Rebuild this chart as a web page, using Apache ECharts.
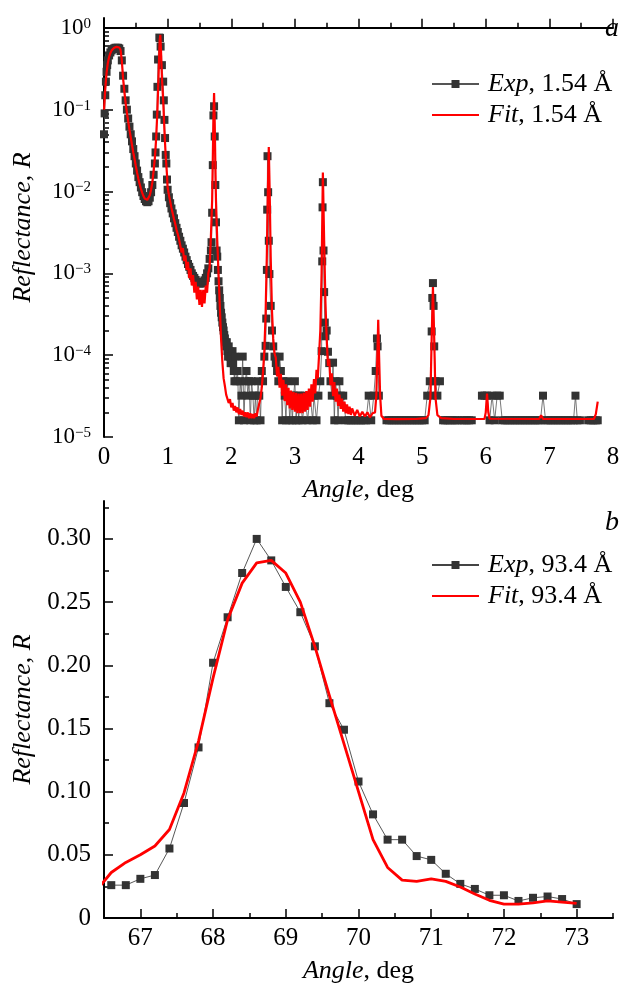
<!DOCTYPE html>
<html>
<head>
<meta charset="utf-8">
<script src="https://cdn.jsdelivr.net/npm/echarts@6/dist/echarts.min.js"></script>
<style>
  html, body { margin: 0; padding: 0; background: #fff; }
  #chart { width: 623px; height: 983px; }
</style>
</head>
<body>
<div id="chart"></div>
<script>
// ---- Panel a: X-ray reflectivity at 1.54 Å, [angle (deg), reflectance R] ----
const expTopLow = [
  [0.00,0.05],[0.01,0.09],[0.02,0.15],[0.03,0.22],[0.04,0.29],[0.05,0.35],[0.06,0.40],[0.08,0.46],
  [0.10,0.50],[0.12,0.53],[0.14,0.55],[0.16,0.56],[0.18,0.57],[0.20,0.57],[0.22,0.57],[0.24,0.56],
  [0.26,0.52],[0.28,0.40],[0.30,0.26],[0.32,0.18],[0.34,0.13],[0.36,0.10],[0.38,0.078],[0.40,0.062],
  [0.42,0.050],[0.44,0.041],[0.46,0.033],[0.48,0.027],[0.50,0.022],[0.52,0.018],[0.54,0.015],[0.56,0.013],
  [0.58,0.0112],[0.60,0.0098],[0.62,0.0088],[0.64,0.0081],[0.66,0.0076],[0.68,0.0074],[0.70,0.0076],
  [0.72,0.0084],[0.74,0.0098],[0.76,0.012],[0.78,0.016],[0.80,0.022],[0.81,0.030],[0.82,0.047],
  [0.83,0.087],[0.84,0.19],[0.85,0.41],[0.87,0.76],[0.88,0.75],[0.89,0.59],[0.91,0.35],[0.93,0.22],
  [0.94,0.13],[0.95,0.075],[0.96,0.045],[0.97,0.028],[0.98,0.022],[0.99,0.014],[1.00,0.0105]
];
const expTopMid = [
  [1.02,0.0085],[1.04,0.0072],[1.06,0.0062],[1.08,0.0054],[1.10,0.0047],[1.12,0.0041],[1.14,0.0036],
  [1.16,0.0032],[1.18,0.0028],[1.20,0.0025],[1.22,0.0022],[1.24,0.0020],[1.26,0.0018],[1.28,0.0016],
  [1.30,0.00145],[1.32,0.0013],[1.34,0.0012],[1.36,0.0011],[1.38,0.0010],[1.40,0.00093],[1.42,0.00088],
  [1.44,0.00083],[1.46,0.00079],[1.48,0.00077],[1.50,0.00075],[1.52,0.00075],[1.54,0.00076],[1.56,0.00078],
  [1.58,0.00082],[1.60,0.00088],[1.62,0.0010],[1.64,0.00115],[1.66,0.0015],[1.68,0.0019],[1.69,0.0024],
  [1.70,0.0055],[1.71,0.021],[1.72,0.085],[1.73,0.11],[1.74,0.047],[1.75,0.012],[1.76,0.0042],
  [1.77,0.0019],[1.78,0.0016],[1.79,0.0011],[1.80,0.0008],[1.81,0.00062],[1.82,0.0005],[1.83,0.0004],
  [1.84,0.00033],[1.85,0.00029],[1.86,0.00025],[1.87,0.00022],[1.88,0.0002],[1.89,0.000176],
  [1.90,0.00016],[1.91,0.000144],[1.92,0.000128],[1.93,0.000144],[1.94,0.000112],[1.95,0.000096],
  [1.96,0.000128],[1.97,0.000112],[1.98,0.000096],[1.99,0.00008],[2.00,0.00008],[2.01,0.000096],
  [2.02,0.000112],[2.03,0.00008],[2.04,0.000064],[2.05,0.000048],[2.06,0.000096],[2.07,0.000064],
  [2.08,0.000048],[2.10,0.000064],
  [2.12,0.000016],[2.14,0.000048],[2.16,0.000032],[2.18,0.000096],[2.20,0.000016],[2.22,0.000048],
  [2.24,0.000064],[2.26,0.000032],[2.28,0.000048],[2.30,0.000016],[2.32,0.000048],[2.34,0.000032],
  [2.36,0.000016],[2.38,0.000032],[2.40,0.000016],[2.42,0.000048],[2.44,0.000032],[2.46,0.000016],
  [2.48,0.000064],[2.50,0.000048],[2.52,0.000096],[2.54,0.00013],[2.55,0.00028],[2.56,0.0011],
  [2.565,0.006],[2.57,0.027],[2.58,0.0098],[2.59,0.0025],[2.60,0.00098],[2.62,0.0004],[2.64,0.0002],
  [2.66,0.000128],[2.68,0.000096],[2.70,0.00008],[2.72,0.000064],[2.74,0.000048],[2.76,0.000096],
  [2.78,0.000064],[2.80,0.000016],[2.82,0.000048],[2.84,0.000032],[2.86,0.000016],[2.88,0.000048],
  [2.90,0.000032],[2.92,0.000016],[2.94,0.000032],[2.96,0.000016],[2.98,0.000032],[3.00,0.000048],
  [3.02,0.000016],[3.04,0.000032],[3.06,0.000016],[3.08,0.000032],[3.12,0.000016],[3.16,0.000032],
  [3.20,0.000016],[3.24,0.000032],[3.28,0.000016],[3.30,0.000032],[3.34,0.000016],[3.37,0.000032],
  [3.40,0.000048],[3.42,0.000112],[3.43,0.0014],[3.435,0.0064],[3.44,0.013],[3.45,0.0019],
  [3.46,0.00059],[3.47,0.00025],[3.48,0.00017],[3.50,0.0002],[3.52,0.00011],[3.54,0.00008],
  [3.56,0.000048],[3.58,0.000032],[3.60,0.000081],[3.62,0.000016],[3.64,0.000048],[3.66,0.000032],
  [3.68,0.000016],[3.70,0.000048],[3.72,0.000032],[3.76,0.000032]
];
const expTopHigh = [
  [3.80,0.000016],[3.84,0.000016],[3.88,0.000016],[3.92,0.000016],[3.96,0.000016],[4.00,0.000016],
  [4.04,0.000016],[4.08,0.000016],[4.12,0.000016],[4.16,0.000032],[4.20,0.000016],[4.24,0.000032],
  [4.27,0.000064],[4.29,0.00016],[4.30,0.000128],[4.32,0.000032],[4.36,null],[4.40,null],
  [4.44,0.000016],[4.48,0.000016],[4.52,0.000016],[4.56,0.000016],[4.60,0.000016],[4.64,0.000016],
  [4.68,0.000016],[4.72,0.000016],[4.76,0.000016],[4.80,0.000016],[4.84,0.000016],[4.88,0.000016],
  [4.92,0.000016],[4.96,0.000016],[5.00,0.000016],[5.04,0.000016],[5.08,0.000032],[5.12,0.000048],
  [5.14,0.000032],[5.15,0.000195],[5.16,0.0005],[5.17,0.00076],[5.18,0.0004],[5.19,0.000128],
  [5.21,0.000048],[5.24,0.000032],[5.28,0.000048],[5.30,null],[5.33,0.000016],[5.36,0.000016],
  [5.40,0.000016],[5.44,0.000016],[5.48,0.000016],[5.52,0.000016],[5.56,0.000016],[5.62,0.000016],
  [5.66,0.000016],[5.70,0.000016],[5.74,0.000016],[5.78,0.000016],[5.84,null],[5.94,0.000032],
  [5.98,0.000032],[6.02,0.000032],[6.06,0.000016],[6.10,0.000032],[6.14,0.000016],[6.18,0.000032],
  [6.22,0.000032],[6.26,0.000016],[6.30,0.000016],[6.34,0.000016],[6.38,0.000016],[6.42,0.000016],
  [6.46,0.000016],[6.50,0.000016],[6.54,0.000016],[6.58,0.000016],[6.62,0.000016],[6.66,0.000016],
  [6.70,0.000016],[6.74,0.000016],[6.78,0.000016],[6.82,0.000016],[6.86,0.000016],[6.90,0.000032],
  [6.94,0.000016],[6.98,0.000016],[7.02,0.000016],[7.06,0.000016],[7.10,0.000016],[7.14,0.000016],
  [7.18,0.000016],[7.22,0.000016],[7.26,0.000016],[7.30,0.000016],[7.34,0.000016],[7.38,0.000016],
  [7.41,0.000032],[7.44,0.000016],[7.48,0.000016],[7.54,null],[7.61,0.000016],[7.65,0.000016],
  [7.69,0.000016],[7.73,0.000016],[7.76,0.000016]
];
const fitTopLow = [
  [0.00,0.10],[0.02,0.18],[0.04,0.28],[0.06,0.37],[0.08,0.44],[0.10,0.49],[0.12,0.53],[0.14,0.555],
  [0.16,0.57],[0.18,0.58],[0.20,0.585],[0.22,0.585],[0.24,0.575],[0.26,0.54],[0.28,0.40],[0.30,0.24],
  [0.32,0.165],[0.34,0.12],[0.36,0.092],[0.38,0.072],[0.40,0.057],[0.42,0.046],[0.44,0.037],[0.46,0.030],
  [0.48,0.025],[0.50,0.0205],[0.52,0.017],[0.54,0.0143],[0.56,0.0123],[0.58,0.0108],[0.60,0.0097],
  [0.62,0.0088],[0.64,0.0082],[0.66,0.0079],[0.68,0.0079],[0.70,0.0082],[0.72,0.0090],[0.74,0.0105],
  [0.76,0.013],[0.78,0.018],[0.80,0.026],[0.82,0.045],[0.84,0.10],[0.86,0.30],[0.875,0.70],[0.885,0.82],
  [0.895,0.55],[0.91,0.25],[0.93,0.13],[0.95,0.055],[0.97,0.027],[0.99,0.016],[1.00,0.0112],
  [1.02,0.0091],[1.04,0.0076],[1.06,0.0063],[1.08,0.0054],[1.10,0.0046],[1.12,0.0040],[1.14,0.0034],
  [1.16,0.0030],[1.18,0.0026],[1.20,0.0025],[1.22,0.0018],[1.24,0.00204],[1.26,0.00141],[1.28,0.00166],
  [1.30,0.0011],[1.32,0.00138],[1.34,0.00087],[1.36,0.00115],[1.38,0.00071],[1.40,0.00095],[1.42,0.00058],
  [1.44,0.00079],[1.46,0.00048],[1.48,0.00069],[1.50,0.00041],[1.52,0.00063],[1.54,0.00039],[1.56,0.00063],
  [1.58,0.00043],[1.60,0.00071],[1.62,0.00058],[1.64,0.0010],[1.66,0.00117],[1.68,0.0028],[1.70,0.0079],
  [1.71,0.025],[1.72,0.079],[1.73,0.16],[1.74,0.071],[1.75,0.022],[1.76,0.0079],[1.78,0.0025],
  [1.80,0.0010],[1.82,0.0004],[1.84,0.000158],[1.86,0.000083],[1.88,0.000052],[1.90,0.000042]
];
const fitTopHigh = [
  [1.92,0.000033],[1.94,0.000034],[1.96,0.000026],[1.98,0.000029],[2.00,0.000023],[2.02,0.000026],
  [2.04,0.000021],[2.06,0.000024],[2.08,0.000020],[2.10,0.000023],[2.12,0.000019],[2.14,0.000022],
  [2.16,0.0000186],[2.18,0.000021],[2.20,0.0000178],[2.22,0.000020],[2.24,0.0000174],[2.26,0.000020],
  [2.28,0.000017],[2.30,0.0000195],[2.32,0.000017],[2.34,0.000019],[2.36,0.000017],[2.38,0.0000195],
  [2.40,0.0000178],[2.42,0.000022],[2.44,0.000022],[2.46,0.000030],[2.48,0.000040],[2.50,0.000063],
  [2.52,0.000112],[2.54,0.00032],[2.56,0.00178],[2.575,0.010],[2.59,0.035],[2.605,0.0089],[2.62,0.00158],
  [2.64,0.00035],[2.66,0.000158],[2.68,0.000105],[2.70,0.000093],[2.72,0.000055],[2.74,0.000072],
  [2.76,0.000040],[2.78,0.000059],[2.80,0.000032],[2.82,0.000050],[2.84,0.0000275],[2.86,0.000044],
  [2.88,0.0000245],[2.90,0.000040],[2.92,0.0000224],[2.94,0.000037],[2.96,0.0000214],[2.98,0.0000355],
  [3.00,0.0000204],[3.02,0.0000347],[3.04,0.0000195],[3.06,0.000034],[3.08,0.0000195],[3.10,0.000034],
  [3.12,0.0000195],[3.14,0.0000347],[3.16,0.0000204],[3.18,0.0000363],[3.20,0.0000214],[3.22,0.000039],
  [3.24,0.0000234],[3.26,0.000044],[3.28,0.000027],[3.30,0.000051],[3.32,0.000034],[3.34,0.000066],
  [3.36,0.000052],[3.38,0.00010],[3.40,0.00020],[3.42,0.0010],[3.44,0.017],[3.46,0.0025],[3.48,0.00045],
  [3.50,0.000158],[3.52,0.000074],[3.54,0.000089],[3.56,0.000043],[3.58,0.000060],[3.60,0.0000316],
  [3.62,0.000047],[3.64,0.000027],[3.66,0.000039],[3.68,0.000024],[3.70,0.000033],[3.72,0.000022],
  [3.74,0.0000295],[3.76,0.0000204],[3.78,0.000027],[3.80,0.0000195],[3.82,0.000025],[3.84,0.000019],
  [3.86,0.0000234],[3.88,0.0000186],[3.90,0.0000224],[3.94,0.0000182],[3.98,0.0000214],[4.02,0.0000178],
  [4.06,0.0000204],[4.10,0.0000178],[4.14,0.000020],[4.18,0.0000174],[4.22,0.0000195],[4.26,0.000020],
  [4.28,0.000032],[4.30,0.000126],[4.31,0.00027],[4.32,0.000126],[4.34,0.000032],[4.36,0.0000182],
  [4.40,0.0000166],[4.60,0.0000165],[4.90,0.0000166],[5.06,0.000017],[5.10,0.0000185],[5.13,0.000030],
  [5.15,0.00016],[5.17,0.00068],[5.19,0.00016],[5.21,0.000030],[5.24,0.0000185],[5.30,0.000017],
  [5.50,0.0000166],[5.98,0.0000166],[6.00,0.000020],[6.02,0.000034],[6.04,0.000020],[6.06,0.0000167],
  [6.84,0.0000166],[6.87,0.0000185],[6.90,0.0000166],[7.70,0.0000166],[7.73,0.000019],[7.76,0.000027]
];
const decadeTicks = [-5, -4, -3, -2, -1, 0];   // log10 of 10^-5 ... 10^0

// ---- Panel b: reflectivity at 93.4 Å ----
const angleB = [66.6,66.8,67.0,67.2,67.4,67.6,67.8,68.0,68.2,68.4,68.6,68.8,69.0,69.2,69.4,69.6,69.8,
  70.0,70.2,70.4,70.6,70.8,71.0,71.2,71.4,71.6,71.8,72.0,72.2,72.4,72.6,72.8,73.0];
const expB = [0.026,0.026,0.031,0.034,0.055,0.091,0.135,0.202,0.238,0.273,0.300,0.283,0.262,0.242,
  0.215,0.170,0.149,0.108,0.082,0.062,0.062,0.049,0.046,0.035,0.027,0.023,0.018,0.018,0.0135,0.016,
  0.017,0.015,0.011];
const fitAngleB = [66.4,66.6,66.8,67.0,67.2,67.4,67.6,67.8,68.0,68.2,68.4,68.6,68.8,69.0,69.2,69.4,
  69.6,69.8,70.0,70.2,70.4,70.6,70.8,71.0,71.2,71.4,71.6,71.8,72.0,72.2,72.4,72.6,72.8,73.0];
const fitB = [0.022,0.036,0.044,0.050,0.057,0.070,0.099,0.140,0.190,0.236,0.265,0.281,0.283,0.273,
  0.250,0.215,0.176,0.138,0.100,0.062,0.040,0.030,0.029,0.031,0.029,0.0245,0.019,0.014,0.011,0.011,
  0.012,0.0135,0.0125,0.0115];
const xTicksB = [67, 68, 69, 70, 71, 72, 73];
const xMinorB = [67.5, 68.5, 69.5, 70.5, 71.5, 72.5, 73.5];
const yTicksB = [0, 0.05, 0.10, 0.15, 0.20, 0.25, 0.30];
const yMinorB = [0.025, 0.075, 0.125, 0.175, 0.225, 0.275, 0.325];

const FONT = "'Liberation Serif', 'Times New Roman', serif";
const BLACK = '#000';
const EXP_COLOR = '#333333';
const FIT_COLOR = '#ff0000';

// minor decade ticks at 2..9 x 10^n, on the log10 scale
const minorLog = [];
decadeTicks.slice(0, -1).forEach(d => {
  for (let k = 2; k <= 9; k++) minorLog.push(d + Math.log10(k));
});

const toLog = pts => pts.map(([a, r]) => [a, r == null ? '-' : Math.log10(r)]);
const zip = (xs, ys) => xs.map((x, i) => [x, ys[i]]);

const italicRich = (size, pad) => ({
  i: { fontStyle: 'italic', fontSize: size, fontFamily: FONT, color: BLACK, padding: pad || 0 }
});
const legendFormatter = name => {
  const k = name.indexOf(',');
  return '{i|' + name.slice(0, k) + '}' + name.slice(k);
};
const legendBase = {
  orient: 'vertical', left: 431, padding: 0,
  itemWidth: 47, itemHeight: 10, itemGap: 5, selectedMode: false,
  formatter: legendFormatter,
  textStyle: { fontSize: 26, fontFamily: FONT, color: BLACK, rich: italicRich(26, [0, 0, 0, 4]) }
};
// red fit curve shown in the legend as a bare line
const fitLegendItem = name => ({ name, itemStyle: { opacity: 0 } });

const lineAxis = { show: true, lineStyle: { color: BLACK, width: 2 } };
const majorTick = ticks => ({ show: true, inside: true, length: 9, lineStyle: { color: BLACK, width: 1.5 }, customValues: ticks });
const overlayAxis = (gridIndex, min, max, ticks, position) => ({
  type: 'value', gridIndex, min, max, position, offset: 0,
  axisLine: { show: false },
  axisTick: { show: true, inside: true, length: 5, lineStyle: { color: BLACK, width: 1.5 }, customValues: ticks },
  axisLabel: { show: false }, splitLine: { show: false }
});
const tickFont = { fontSize: 25, fontFamily: FONT, color: BLACK };
const nameFont = { fontSize: 26, fontFamily: FONT, color: BLACK, rich: italicRich(26) };

const option = {
  animation: false,
  backgroundColor: '#fff',
  title: [
    { text: 'a', left: 605, top: 15, padding: 0, textStyle: { fontStyle: 'italic', fontWeight: 'normal', fontSize: 28, fontFamily: FONT, color: BLACK } },
    { text: 'b', left: 605, top: 509, padding: 0, textStyle: { fontStyle: 'italic', fontWeight: 'normal', fontSize: 28, fontFamily: FONT, color: BLACK } }
  ],
  legend: [
    Object.assign({}, legendBase, { top: 71, data: ['Exp, 1.54 Å', fitLegendItem('Fit, 1.54 Å')] }),
    Object.assign({}, legendBase, { top: 552, data: ['Exp, 93.4 Å', fitLegendItem('Fit, 93.4 Å')] })
  ],
  grid: [
    { left: 104, right: 10, top: 18, height: 419, containLabel: false, outerBoundsMode: 'none' },
    { left: 104, right: 10, top: 501, height: 417, containLabel: false, outerBoundsMode: 'none' }
  ],
  xAxis: [
    {
      type: 'value', gridIndex: 0, min: 0, max: 8, interval: 1, position: 'bottom',
      axisLine: lineAxis,
      axisTick: { show: true, inside: true, length: 9, lineStyle: { color: BLACK, width: 1.5 } },
      minorTick: { show: true, splitNumber: 2, length: 5, lineStyle: { color: BLACK, width: 1.5 } },
      splitLine: { show: false }, minorSplitLine: { show: false },
      axisLabel: Object.assign({ margin: 8 }, tickFont),
      name: '{i|Angle}, deg', nameLocation: 'middle', nameGap: 40, nameTextStyle: nameFont
    },
    {
      type: 'value', gridIndex: 1, min: 66.5, max: 73.5, position: 'bottom',
      axisLine: lineAxis,
      axisTick: majorTick(xTicksB),
      splitLine: { show: false },
      axisLabel: Object.assign({ margin: 8, customValues: xTicksB }, tickFont),
      name: '{i|Angle}, deg', nameLocation: 'middle', nameGap: 40, nameTextStyle: nameFont
    },
    overlayAxis(1, 66.5, 73.5, xMinorB, 'bottom')
  ],
  yAxis: [
    {
      type: 'value', gridIndex: 0, min: -5, max: 0.12, position: 'left',
      axisLine: lineAxis,
      axisTick: majorTick(decadeTicks),
      splitLine: { show: false },
      axisLabel: {
        customValues: decadeTicks, margin: 13,
        formatter: v => '{b|10}{s|' + (v === 0 ? '0' : '\u2212' + Math.abs(v)) + '}',
        rich: {
          b: { fontSize: 23, fontFamily: FONT, color: BLACK },
          s: { fontSize: 15, fontFamily: FONT, color: BLACK, verticalAlign: 'top' }
        }
      },
      name: '{i|Reflectance}, {i|R}', nameLocation: 'middle', nameGap: 68, nameTextStyle: nameFont
    },
    overlayAxis(0, -5, 0.12, minorLog, 'left'),
    {
      type: 'value', gridIndex: 1, min: 0, max: 0.33, position: 'left',
      axisLine: lineAxis,
      axisTick: majorTick(yTicksB),
      splitLine: { show: false },
      axisLabel: Object.assign({
        customValues: yTicksB, margin: 13,
        formatter: v => (v === 0 ? '0' : v.toFixed(2))
      }, tickFont),
      name: '{i|Reflectance}, {i|R}', nameLocation: 'middle', nameGap: 68, nameTextStyle: nameFont
    },
    overlayAxis(1, 0, 0.33, yMinorB, 'left')
  ],
  series: [
    {
      name: 'Exp, 1.54 Å', type: 'line', xAxisIndex: 0, yAxisIndex: 0,
      data: toLog(expTopLow.concat(expTopMid, expTopHigh)),
      symbol: 'rect', symbolSize: 8, showAllSymbol: true, connectNulls: false,
      itemStyle: { color: EXP_COLOR }, lineStyle: { color: '#555', width: 0.8 }, z: 2
    },
    {
      name: 'Fit, 1.54 Å', type: 'line', xAxisIndex: 0, yAxisIndex: 0,
      data: toLog(fitTopLow.concat(fitTopHigh)),
      symbol: 'none', showSymbol: false,
      itemStyle: { color: FIT_COLOR }, lineStyle: { color: FIT_COLOR, width: 2.2 }, z: 3
    },
    {
      name: 'Exp, 93.4 Å', type: 'line', xAxisIndex: 1, yAxisIndex: 2,
      data: zip(angleB, expB),
      symbol: 'rect', symbolSize: 8, showAllSymbol: true,
      itemStyle: { color: EXP_COLOR }, lineStyle: { color: '#444', width: 0.9 }, z: 2
    },
    {
      name: 'Fit, 93.4 Å', type: 'line', xAxisIndex: 1, yAxisIndex: 2,
      data: zip(fitAngleB, fitB), clip: true,
      symbol: 'none', showSymbol: false,
      itemStyle: { color: FIT_COLOR }, lineStyle: { color: FIT_COLOR, width: 2.8 }, z: 3
    }
  ]
};

const chart = echarts.init(document.getElementById('chart'), null, { renderer: 'canvas' });
chart.setOption(option);
</script>
</body>
</html>
